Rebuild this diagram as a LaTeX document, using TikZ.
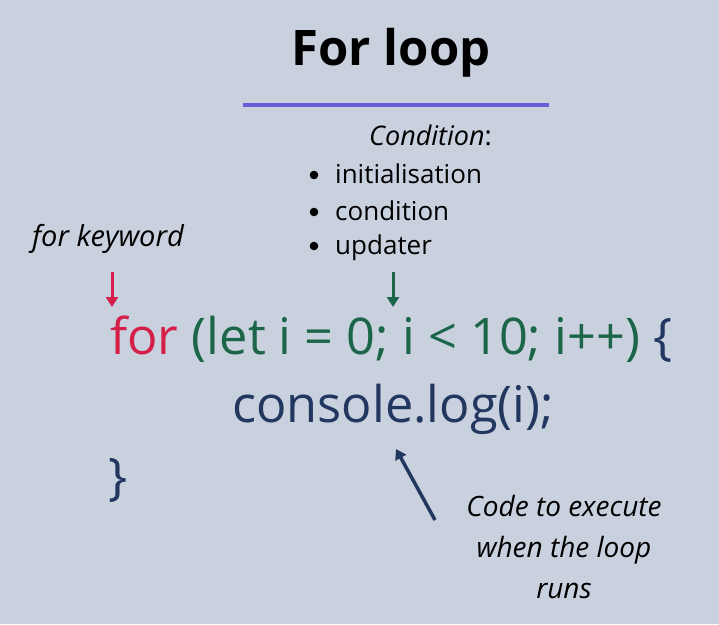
\documentclass[tikz,border=0pt]{standalone}
\usepackage{fontspec}
\setmainfont{Open Sans}
\usetikzlibrary{arrows.meta,calc}
\definecolor{bgc}{HTML}{C9D0DE}
\definecolor{barc}{HTML}{6A5CD4}
\definecolor{redc}{HTML}{D51F49}
\definecolor{greenc}{HTML}{1B6648}
\definecolor{navyc}{HTML}{22375F}
\tikzset{
  txt/.style={inner sep=0pt, anchor=base west},
  lab/.style={txt, font=\fontsize{28}{34}\selectfont\itshape},
  note/.style={inner sep=0pt, anchor=base, font=\fontsize{28}{34}\selectfont\itshape},
  item/.style={txt, font=\fontsize{26}{30}\selectfont},
  code/.style={txt, font=\fontsize{50.5}{60}\selectfont},
  arr/.style={line width=3pt, -{Triangle[width=12pt,length=10pt]}},
}
\begin{document}
\begin{tikzpicture}[x=1pt,y=-1pt]
\fill[bgc] (0,0) rectangle (719,624);
\useasboundingbox (0,0) rectangle (719,624);
\node[inner sep=0pt, anchor=base, font=\fontsize{49}{56}\selectfont\bfseries] (title) at (391,65) {For loop};
\coordinate (barL) at (243,105);
\coordinate (barR) at (549,105);
\draw[barc, line width=4.5pt] (barL) -- (barR);

\node[lab, font=\fontsize{27}{32}\selectfont\itshape] (cond) at (369,145) {Condition\upshape:};
\node[item] (i1) at (335,183) {initialisation};
\node[item] (i2) at (335,220) {condition};
\node[item] (i3) at (335,254) {updater};
\foreach \n in {i1,i2,i3}{\fill ($(\n.base west)+(-21,-8)$) circle (4.3pt);}

\node[lab, font=\fontsize{29}{34}\selectfont\itshape] (kw) at (32,246) {for keyword};

\node[code, text=redc] (for) at (110,354) {for};
\node[code, text=greenc] (par) at (for.base east) {\ (let i = 0; i < 10; i++)};
\node[code, text=navyc] (brace) at (par.base east) {\ \{};
\node[code, text=navyc] (log) at (232,422) {console.log(i);};
\node[code, text=navyc] (close) at (108,494) {\}};

\coordinate (ra) at (112,272);
\coordinate (rb) at (112,307);
\draw[arr, redc] (ra) -- (rb);
\coordinate (ga) at (393,272);
\coordinate (gb) at (393,307);
\draw[arr, greenc] (ga) -- (gb);

\node[note] (n1) at (564,516) {Code to execute};
\node[note] (n2) at (564,557) {when the loop};
\node[note] (n3) at (564,598) {runs};
\coordinate (na) at (435,520);
\coordinate (nb) at (396,449);
\draw[arr, navyc, line width=3.5pt] (na) -- (nb);
\end{tikzpicture}
\end{document}
